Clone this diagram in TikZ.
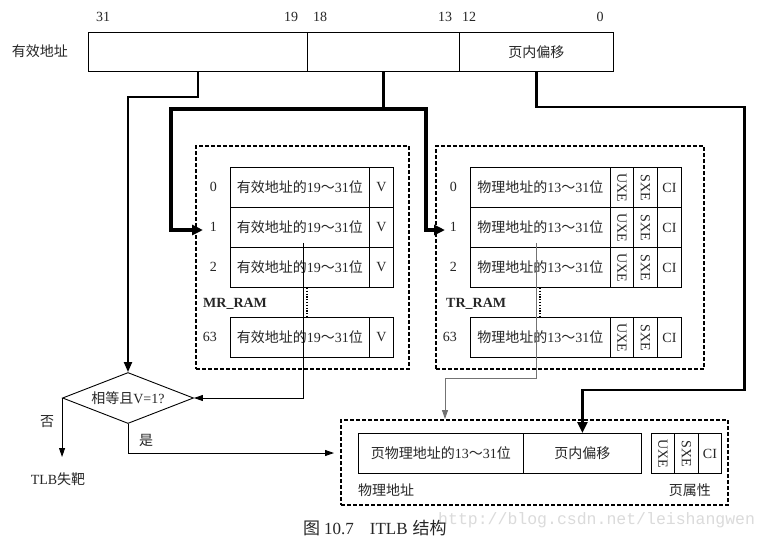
\documentclass[tikz,border=0pt]{standalone}
\usepackage{fontspec}
\usepackage{graphicx}
\setmainfont{Liberation Serif}
\newfontfamily\cjk{Noto Sans CJK SC}
\newfontfamily\wmfont{Liberation Mono}
\usetikzlibrary{arrows.meta,shapes.geometric,calc}
\newcommand\zhtxt[1]{{\cjk #1}}
\newcommand\tld{{\cjk ～}}
\begin{document}
\begin{tikzpicture}[x=1pt,y=-1pt,
  font=\fontsize{14}{16}\selectfont,
  every node/.style={text=black!85},
  cell/.style={draw=black, line width=0.9pt, inner sep=0pt, minimum height=40, anchor=north west},
  dbox/.style={draw=black, line width=2pt, dash pattern=on 4pt off 2pt, inner sep=0pt, anchor=north west},
  thinln/.style={line width=0.9pt},
  midln/.style={line width=2pt},
  thickln/.style={line width=3.5pt},
  tipthin/.style={-{Triangle[length=9pt,width=6pt]}},
  tipthick/.style={-{Triangle[length=11pt,width=10pt]}},
  dotln/.style={line width=1.3pt, dash pattern=on 1.3pt off 1.5pt},
  lbl/.style={inner sep=0pt}
]
\fill[white] (0,0) rectangle (768,544);
\useasboundingbox (0,0) rectangle (768,544);

% ---------- effective address register ----------
\node[lbl] (ealab) at (40,51) {\zhtxt{有效地址}};
\node[cell, minimum width=219, minimum height=39] (f1) at (88,32) {};
\node[cell, minimum width=152, minimum height=39] (f2) at (307,32) {};
\node[cell, minimum width=154, minimum height=39] (f3) at (459,32) {\zhtxt{页内偏移}};
\node[lbl] (b31) at (103,17) {31};
\node[lbl] (b19) at (291,17) {19};
\node[lbl] (b18) at (320,17) {18};
\node[lbl] (b13) at (445,17) {13};
\node[lbl] (b12) at (469,17) {12};
\node[lbl] (b0)  at (600,17) {0};

% ---------- MR_RAM ----------
\node[dbox, minimum width=213, minimum height=223] (mrbox) at (195,145) {};
\foreach \i/\yy in {0/167,1/207,2/247,63/317}{
  \node[cell, minimum width=139] (mre\i) at (230,\yy) {\zhtxt{有效地址的}19\tld31\zhtxt{位}};
  \node[cell, minimum width=24] (mrv\i) at (369,\yy) {V};
  \node[lbl, anchor=east] (mri\i) at (217,\yy+20) {\i};
}
\node[lbl, anchor=west, font=\fontsize{14}{16}\selectfont\bfseries] (mrlab) at (203,304) {MR\_RAM};
\draw[dotln] ($(mre2.south west)+(77,0)$) -- ($(mre63.north west)+(77,0)$);

% ---------- TR_RAM ----------
\node[dbox, minimum width=268, minimum height=223] (trbox) at (435,145) {};
\foreach \i/\yy in {0/167,1/207,2/247,63/317}{
  \node[cell, minimum width=140] (tre\i) at (470,\yy) {\zhtxt{物理地址的}13\tld31\zhtxt{位}};
  \node[cell, minimum width=23] (tru\i) at (610,\yy) {\rotatebox{-90}{UXE}};
  \node[cell, minimum width=24] (trs\i) at (633,\yy) {\rotatebox{-90}{SXE}};
  \node[cell, minimum width=24] (trc\i) at (657,\yy) {CI};
  \node[lbl, anchor=east] (tri\i) at (457,\yy+20) {\i};
}
\node[lbl, anchor=west, font=\fontsize{14}{16}\selectfont\bfseries] (trlab) at (446,304) {TR\_RAM};
\draw[dotln] ($(tre2.south west)+(70,0)$) -- ($(tre63.north west)+(70,0)$);

% ---------- physical address ----------
\node[dbox, minimum width=387, minimum height=85] (pa) at (340,419) {};
\node[cell, minimum width=165] (pb1) at (358,433) {\zhtxt{页物理地址的}13\tld31\zhtxt{位}};
\node[cell, minimum width=118] (pb2) at (523,433) {\zhtxt{页内偏移}};
\node[cell, minimum width=23] (pu) at (651,433) {\rotatebox{-90}{UXE}};
\node[cell, minimum width=24] (ps) at (674,433) {\rotatebox{-90}{SXE}};
\node[cell, minimum width=23] (pc) at (698,433) {CI};
\node[lbl, anchor=west] (palab) at (358,490) {\zhtxt{物理地址}};
\node[lbl, anchor=east] (pattr) at (711,490) {\zhtxt{页属性}};

% ---------- decision ----------
\node[draw=black, thinln, diamond, aspect=2.57, inner sep=0pt,
      minimum width=131, minimum height=51] (dia) at (128,398) {\zhtxt{相等且}V=1?};
\node[lbl] (no) at (47,422) {\zhtxt{否}};
\node[lbl] (yes) at (146,440) {\zhtxt{是}};
\node[lbl] (miss) at (58,479) {TLB\zhtxt{失靶}};
\coordinate (missend) at ($(dia.west)+(0,59)$);

% ---------- caption and watermark ----------
\node[lbl, anchor=west, text=black!14, font=\wmfont\fontsize{16.5}{17}\selectfont] (wm) at (438,520) {http://blog.csdn.net/leishangwen};
\node[lbl, anchor=west, font=\fontsize{17}{19}\selectfont] (cap) at (303,528) {\zhtxt{图}\hspace{4pt}10.7\hspace{16pt}ITLB\hspace{5pt}\zhtxt{结构}};

% ---------- connectors ----------
\draw[midln, -{Triangle[length=10pt,width=8pt]}] (f1.south) |- ($(dia.north)+(0,-275)$) -- (dia.north);
\coordinate (split) at ($(f2.south)+(0,37)$);
\draw[thickln] (f2.south) -- (split);
\draw[thickln, tipthick] (split) -| ($(mrbox.north west)+(-24,85)$) -- ($(mrbox.north west)+(8,85)$);
\draw[thickln, tipthick] (split) -| ($(trbox.north west)+(-9,85)$) -- ($(trbox.north west)+(10,85)$);
\draw[line width=2.6pt, tipthick] (f3.south) |- ($(pb2.north)+(162,-326)$) -- ($(pb2.north)+(162,-43)$) -| (pb2.north);
\draw[thinln, tipthin] ($(mre1.south west)+(73,-5)$) |- (dia.east);
\draw[thinln, draw=black!55, tipthin] ($(tre1.south west)+(66,-5)$) |- ($(pa.north west)+(105,-41)$) -- ($(pa.north west)+(105,0)$);
\draw[thinln, tipthin] (dia.west) -- (missend);
\draw[thinln, tipthin, shorten >=6pt] (dia.south) |- ($(pa.west)+(0,-9.5)$);
\end{tikzpicture}
\end{document}
